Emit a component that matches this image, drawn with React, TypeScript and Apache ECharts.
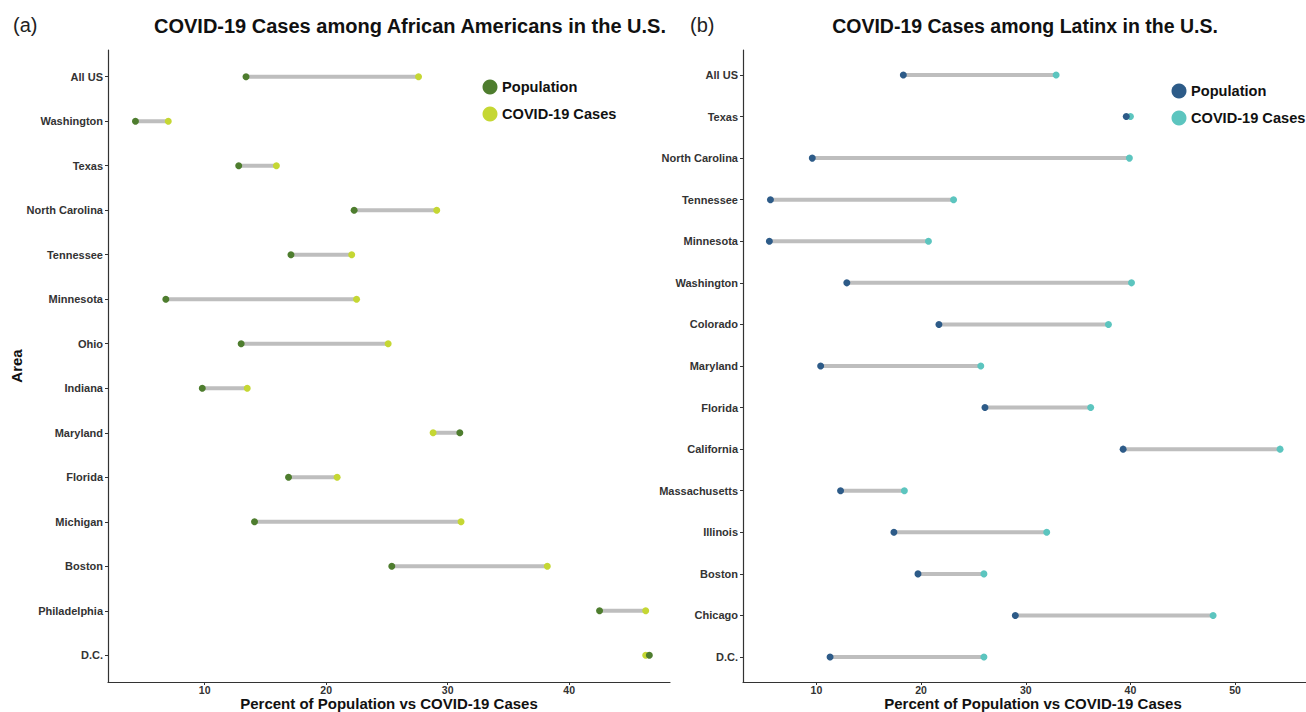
import React, { useEffect, useRef } from "react";
import * as echarts from "echarts";

const leftAreas = ["All US", "Washington", "Texas", "North Carolina", "Tennessee", "Minnesota", "Ohio", "Indiana", "Maryland", "Florida", "Michigan", "Boston", "Philadelphia", "D.C."];
const leftPopulation = [13.4, 4.3, 12.8, 22.3, 17.1, 6.8, 13.0, 9.8, 31.0, 16.9, 14.1, 25.4, 42.5, 46.6];
const leftCases = [27.6, 7.0, 15.9, 29.1, 22.1, 22.5, 25.1, 13.5, 28.8, 20.9, 31.1, 38.2, 46.3, 46.3];

const rightAreas = ["All US", "Texas", "North Carolina", "Tennessee", "Minnesota", "Washington", "Colorado", "Maryland", "Florida", "California", "Massachusetts", "Illinois", "Boston", "Chicago", "D.C."];
const rightPopulation = [18.3, 39.6, 9.6, 5.6, 5.5, 12.9, 21.7, 10.4, 26.1, 39.3, 12.3, 17.4, 19.7, 29.0, 11.3];
const rightCases = [32.9, 40.0, 39.9, 23.1, 20.7, 40.1, 37.9, 25.7, 36.2, 54.3, 18.4, 32.0, 26.0, 47.9, 26.0];

const xTicksLeft = [10, 20, 30, 40];
const xTicksRight = [10, 20, 30, 40, 50];

const FONT = "'Liberation Sans', Arial, sans-serif";
const AXIS_COLOR = "#333333";
const LEFT_POP = "#4e7d2e";
const LEFT_CASES = "#c5d733";
const RIGHT_POP = "#2d5b88";
const RIGHT_CASES = "#5cc5bf";
const SEG = "#bebebe";

function xAxisOf(gridIndex: number, min: number, max: number, ticks: number[]) {
  return {
    type: "value",
    gridIndex,
    min,
    max,
    name: "Percent of Population vs COVID-19 Cases",
    nameLocation: "middle",
    nameGap: 14,
    nameMoveOverlap: false,
    nameTextStyle: { fontFamily: FONT, fontWeight: "bold", fontSize: 15, color: "#111", verticalAlign: "top", lineHeight: 15 },
    axisLine: { show: true, lineStyle: { color: AXIS_COLOR, width: 1.2 } },
    axisTick: { show: true, length: 3, customValues: ticks, lineStyle: { color: AXIS_COLOR } },
    axisLabel: { customValues: ticks, margin: 3, fontFamily: FONT, fontSize: 10.5, lineHeight: 10, fontWeight: "bold", color: "#333" },
    splitLine: { show: false },
  };
}

function yAxisOf(gridIndex: number, names: string[], withName: boolean) {
  const idx = names.map((_, i) => i + 1);
  return {
    type: "value",
    gridIndex,
    inverse: true,
    min: 0.4,
    max: names.length + 0.6,
    name: withName ? "Area" : "",
    nameLocation: "middle",
    nameGap: 84,
    nameMoveOverlap: false,
    nameTextStyle: { fontFamily: FONT, fontWeight: "bold", fontSize: 15, color: "#111" },
    axisLine: { show: true, lineStyle: { color: AXIS_COLOR, width: 1.2 } },
    axisTick: { show: true, length: 3, customValues: idx, lineStyle: { color: AXIS_COLOR } },
    axisLabel: {
      customValues: idx,
      margin: 5,
      fontFamily: FONT,
      fontSize: 11,
      fontWeight: "bold",
      color: "#333",
      formatter: (v: number) => names[Math.round(v) - 1] ?? "",
    },
    splitLine: { show: false },
  };
}

function segmentSeries(axisIndex: number, pop: number[], cases: number[]) {
  return {
    type: "custom",
    xAxisIndex: axisIndex,
    yAxisIndex: axisIndex,
    data: pop.map((p, i) => [p, cases[i], i + 1]),
    encode: { x: [0, 1], y: 2 },
    renderItem: (_params: any, api: any) => {
      const a = api.coord([api.value(0), api.value(2)]);
      const b = api.coord([api.value(1), api.value(2)]);
      return {
        type: "line",
        shape: { x1: a[0], y1: a[1], x2: b[0], y2: b[1] },
        style: { stroke: SEG, lineWidth: 4 },
      };
    },
    z: 1,
  };
}

function dotSeries(axisIndex: number, name: string, vals: number[], color: string, z: number) {
  return {
    type: "scatter",
    name,
    xAxisIndex: axisIndex,
    yAxisIndex: axisIndex,
    data: vals.map((v, i) => [v, i + 1]),
    symbol: "circle",
    symbolSize: 7,
    itemStyle: { color, opacity: 1 },
    z,
  };
}

function legendGraphic(x: number, y: number, popColor: string, casesColor: string) {
  const txt = { fontFamily: FONT, fontWeight: "bold", fontSize: 14.6, fill: "#111", verticalAlign: "middle", align: "left" };
  return [
    { type: "circle", shape: { cx: x, cy: y, r: 7.5 }, style: { fill: popColor } },
    { type: "text", x: x + 12, y, style: { ...txt, text: "Population" } },
    { type: "circle", shape: { cx: x, cy: y + 27, r: 7.5 }, style: { fill: casesColor } },
    { type: "text", x: x + 12, y: y + 27, style: { ...txt, text: "COVID-19 Cases" } },
  ];
}

export default function App() {
  const ref = useRef<HTMLDivElement>(null);
  useEffect(() => {
    if (!ref.current) return;
    const chart = echarts.init(ref.current, null, { renderer: "svg" });
    chart.setOption({
      animation: false,
      backgroundColor: "#ffffff",
      title: [
        { text: "COVID-19 Cases among African Americans in the U.S.", left: 405, top: 11, textAlign: "center", textStyle: { fontFamily: FONT, fontWeight: "bold", fontSize: 20, color: "#111" } },
        { text: "COVID-19 Cases among Latinx in the U.S.", left: 1020, top: 11, textAlign: "center", textStyle: { fontFamily: FONT, fontWeight: "bold", fontSize: 19.5, color: "#111" } },
        { text: "(a)", left: 8, top: 10, textStyle: { fontFamily: FONT, fontWeight: "normal", fontSize: 20, color: "#222" } },
        { text: "(b)", left: 685, top: 10, textStyle: { fontFamily: FONT, fontWeight: "normal", fontSize: 20, color: "#222" } },
      ],
      grid: [
        { left: 108, right: 636, top: 50, bottom: 30, containLabel: false, outerBoundsMode: "none" },
        { left: 743, right: -17, top: 50, bottom: 30, containLabel: false, outerBoundsMode: "none" },
      ],
      xAxis: [xAxisOf(0, 2.04, 48.3, xTicksLeft), xAxisOf(1, 2.98, 58.4, xTicksRight)],
      yAxis: [yAxisOf(0, leftAreas, true), yAxisOf(1, rightAreas, false)],
      series: [
        segmentSeries(0, leftPopulation, leftCases),
        dotSeries(0, "COVID-19 Cases", leftCases, LEFT_CASES, 2),
        dotSeries(0, "Population", leftPopulation, LEFT_POP, 3),
        segmentSeries(1, rightPopulation, rightCases),
        dotSeries(1, "COVID-19 Cases", rightCases, RIGHT_CASES, 2),
        dotSeries(1, "Population", rightPopulation, RIGHT_POP, 3),
      ],
      graphic: [...legendGraphic(490, 87, LEFT_POP, LEFT_CASES), ...legendGraphic(1179, 91, RIGHT_POP, RIGHT_CASES)],
    });
    return () => chart.dispose();
  }, []);
  return <div ref={ref} style={{ position: "fixed", left: 0, top: 0, width: 1306, height: 712 }} />;
}
